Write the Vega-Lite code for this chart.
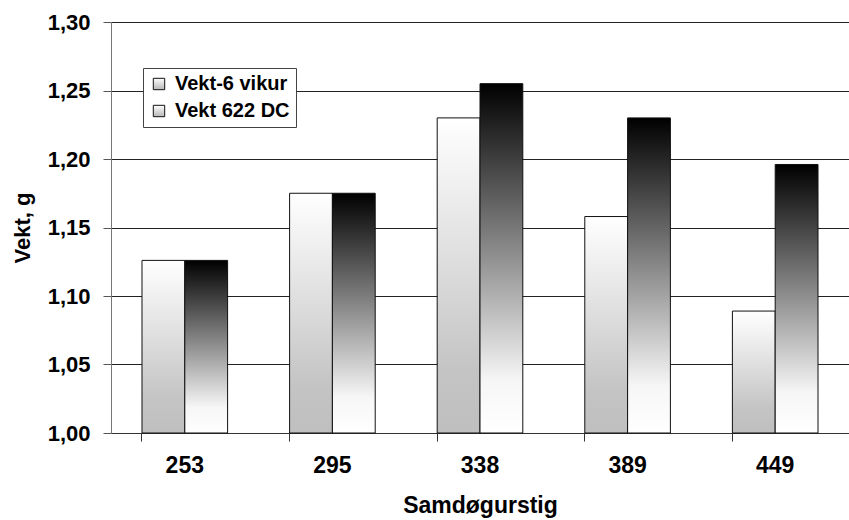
{
  "$schema": "https://vega.github.io/schema/vega-lite/v6.json",
  "width": 738,
  "height": 411,
  "autosize": {"type": "none"},
  "padding": {"left": 111, "top": 22, "right": 0, "bottom": 87},
  "background": "#ffffff",
  "config": {
    "view": {"stroke": null},
    "font": "Liberation Sans"
  },
  "data": {
    "values": [
      {"cat": "253", "series": "Vekt-6 vikur", "value": 1.126},
      {"cat": "253", "series": "Vekt 622 DC", "value": 1.126},
      {"cat": "295", "series": "Vekt-6 vikur", "value": 1.175},
      {"cat": "295", "series": "Vekt 622 DC", "value": 1.175},
      {"cat": "338", "series": "Vekt-6 vikur", "value": 1.23},
      {"cat": "338", "series": "Vekt 622 DC", "value": 1.255},
      {"cat": "389", "series": "Vekt-6 vikur", "value": 1.158},
      {"cat": "389", "series": "Vekt 622 DC", "value": 1.23},
      {"cat": "449", "series": "Vekt-6 vikur", "value": 1.089},
      {"cat": "449", "series": "Vekt 622 DC", "value": 1.196}
    ]
  },
  "encoding": {
    "x": {
      "field": "cat",
      "type": "nominal",
      "sort": null,
      "scale": {"paddingInner": 0.42, "paddingOuter": 0.21},
      "axis": {
        "title": "Samdøgurstig",
        "labelAngle": 0,
        "bandPosition": 0,
        "labelFont": "Liberation Sans",
        "labelFontSize": 23,
        "labelFontWeight": "bold",
        "labelColor": "#000000",
        "labelPadding": 13,
        "tickSize": 8,
        "tickColor": "#333333",
        "domainColor": "#333333",
        "titleFont": "Liberation Sans",
        "titleFontSize": 23,
        "titleFontWeight": "bold",
        "titleColor": "#000000",
        "titlePadding": 17,
        "grid": false
      }
    },
    "xOffset": {"field": "series", "type": "nominal", "scale": {"domain": ["Vekt-6 vikur", "Vekt 622 DC"]}},
    "y": {
      "field": "value",
      "type": "quantitative",
      "scale": {"domain": [1.0, 1.3], "zero": false, "nice": false},
      "axis": {
        "title": "Vekt, g",
        "values": [1.0, 1.05, 1.1, 1.15, 1.2, 1.25, 1.3],
        "labelExpr": "replace(format(datum.value, '.2f'), '.', ',')",
        "labelFont": "Liberation Sans",
        "labelFontSize": 22,
        "labelFontWeight": "bold",
        "labelColor": "#000000",
        "labelPadding": 13,
        "tickSize": 8,
        "tickColor": "#555555",
        "domainColor": "#777777",
        "gridColor": "#222222",
        "gridWidth": 1,
        "titleFont": "Liberation Sans",
        "titleFontSize": 22,
        "titleFontWeight": "bold",
        "titleColor": "#000000",
        "titlePadding": 13
      }
    },
    "y2": {"datum": 1.0}
  },
  "layer": [
    {
      "transform": [{"filter": "datum.series === 'Vekt-6 vikur'"}],
      "mark": {
        "type": "bar",
        "strokeWidth": 1,
        "fill": {"gradient": "linear", "x1": 0, "y1": 1, "x2": 0, "y2": 0, "stops": [{"offset": 0, "color": "#bfbfbf"}, {"offset": 0.2, "color": "#c4c4c4"}, {"offset": 1, "color": "#ffffff"}]}
      },
      "encoding": {
        "stroke": {
          "field": "series",
          "type": "nominal",
          "scale": {"domain": ["Vekt-6 vikur", "Vekt 622 DC"], "range": ["#111111", "#111111"]},
          "legend": {
            "title": null,
            "orient": "none",
            "legendX": 32,
            "legendY": 46,
            "padding": 6,
            "strokeColor": "#444444",
            "fillColor": "#ffffff",
            "symbolType": "square",
            "symbolSize": 130,
            "symbolStrokeColor": "#222222",
            "symbolStrokeWidth": 1,
            "labelFont": "Liberation Sans",
            "labelFontSize": 20,
            "labelFontWeight": "bold",
            "labelColor": "#000000",
            "rowPadding": 7,
            "labelOffset": 6,
            "encode": {
              "symbols": {
                "update": {
                  "fill": {"signal": "datum.value === 'Vekt-6 vikur' ? {gradient: 'linear', x1: 0, y1: 1, x2: 0, y2: 0, stops: [{offset: 0, color: '#b8b8b8'}, {offset: 1, color: '#ffffff'}]} : {gradient: 'linear', x1: 0, y1: 1, x2: 0, y2: 0, stops: [{offset: 0, color: '#ffffff'}, {offset: 1, color: '#000000'}]}"},
                  "fillOpacity": {"value": 1},
                  "stroke": {"value": "#222222"}
                }
              }
            }
          }
        }
      }
    },
    {
      "transform": [{"filter": "datum.series === 'Vekt 622 DC'"}],
      "mark": {
        "type": "bar",
        "stroke": "#111111",
        "strokeWidth": 1,
        "fill": {"gradient": "linear", "x1": 0, "y1": 1, "x2": 0, "y2": 0, "stops": [{"offset": 0, "color": "#ffffff"}, {"offset": 0.15, "color": "#f6f6f6"}, {"offset": 1, "color": "#000000"}]}
      }
    }
  ]
}
